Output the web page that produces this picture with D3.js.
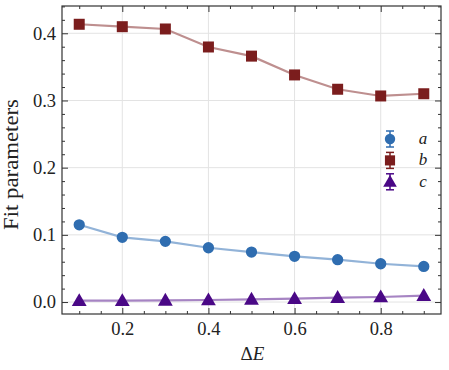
<!DOCTYPE html>
<html>
<head>
<meta charset="utf-8">
<script src="https://cdn.jsdelivr.net/npm/d3@7"></script>
<style>
  body { margin: 0; background: #fff; }
  svg text { font-family: "Liberation Serif", "DejaVu Serif", serif; fill: #222; }
</style>
</head>
<body>
<div id="chart"></div>
<script>
// data
let deltaE = [0.1, 0.2, 0.3, 0.4, 0.5, 0.6, 0.7, 0.8, 0.9];
let paramA = [0.115, 0.0963, 0.0903, 0.0808, 0.0744, 0.068, 0.063, 0.057, 0.053];
let paramB = [0.4134, 0.4098, 0.4064, 0.3796, 0.366, 0.338, 0.3167, 0.3067, 0.310];
let paramC = [0.002, 0.002, 0.0025, 0.003, 0.004, 0.005, 0.0065, 0.0075, 0.0095];
let seriesNames = ["a", "b", "c"];
let xTicks = [0.2, 0.4, 0.6, 0.8];
let yTicks = [0.0, 0.1, 0.2, 0.3, 0.4];

let width = 449, height = 370;
let margin = {left: 62, right: 8, top: 6, bottom: 56};
let serif = "'Liberation Serif', 'DejaVu Serif', serif";

let svg = d3.select("#chart").append("svg")
    .attr("width", width)
    .attr("height", height);

let x = d3.scaleLinear().domain([0.06, 0.94]).range([margin.left, width - margin.right]);
let y = d3.scaleLinear().domain([-0.0178, 0.4406]).range([height - margin.bottom, margin.top]);

let x0 = margin.left, x1 = width - margin.right;
let y0 = height - margin.bottom, y1 = margin.top;

// grid
let grid = svg.append("g").attr("class", "grid");
grid.selectAll(".gx").data(xTicks).enter().append("line")
    .attr("x1", d => x(d)).attr("x2", d => x(d))
    .attr("y1", y0).attr("y2", y1)
    .style("stroke", "#e3e3e3").style("stroke-width", 1);
grid.selectAll(".gy").data(yTicks).enter().append("line")
    .attr("x1", x0).attr("x2", x1)
    .attr("y1", d => y(d)).attr("y2", d => y(d))
    .style("stroke", "#e3e3e3").style("stroke-width", 1);

// inward ticks on all four sides
let xMinor = d3.range(0.1, 0.941, 0.05).map(v => +v.toFixed(2)).filter(v => xTicks.indexOf(v) < 0);
let yMinor = d3.range(0.0, 0.441, 0.02).map(v => +v.toFixed(2)).filter(v => yTicks.indexOf(v) < 0);

let axB = d3.axisBottom(x).tickValues(xTicks).tickSizeInner(-6).tickSizeOuter(0).tickPadding(8).tickFormat(d3.format(".1f"));
let axL = d3.axisLeft(y).tickValues(yTicks).tickSizeInner(-6).tickSizeOuter(0).tickPadding(6).tickFormat(d3.format(".1f"));
let axT = d3.axisTop(x).tickValues(xTicks).tickSizeInner(-6).tickSizeOuter(0).tickFormat("");
let axR = d3.axisRight(y).tickValues(yTicks).tickSizeInner(-6).tickSizeOuter(0).tickFormat("");

let axes = [
    [axB, `translate(0,${y0})`, d3.axisBottom(x).tickValues(xMinor)],
    [axT, `translate(0,${y1})`, d3.axisTop(x).tickValues(xMinor)],
    [axL, `translate(${x0},0)`, d3.axisLeft(y).tickValues(yMinor)],
    [axR, `translate(${x1},0)`, d3.axisRight(y).tickValues(yMinor)]
];
for(let [ax, tr, minor] of axes){
    svg.append("g").attr("transform", tr)
        .call(minor.tickSizeInner(-3).tickSizeOuter(0).tickFormat(""))
        .call(g => g.select(".domain").remove())
        .selectAll("line").style("stroke", "#333");
    let g = svg.append("g").attr("transform", tr).call(ax)
        .attr("font-family", serif).attr("font-size", 18.5);
    g.select(".domain").remove();
    g.selectAll("line").style("stroke", "#333");
    g.selectAll("text").style("font-size", "18.5px").style("fill", "#222")
        .style("font-family", serif);
}

svg.append("rect")
    .attr("x", x0).attr("y", y1)
    .attr("width", x1 - x0).attr("height", y0 - y1)
    .style("fill", "none").style("stroke", "#333").style("stroke-width", 1.2);

// series
let series = [
    {name: seriesNames[0], values: paramA, color: "#2f6db0", line: "#92b3d8", shape: d3.symbolCircle, size: 100},
    {name: seriesNames[1], values: paramB, color: "#7b1d1d", line: "#be8f8f", shape: d3.symbolSquare, size: 121},
    {name: seriesNames[2], values: paramC, color: "#4a0886", line: "#a684c3", shape: d3.symbolTriangle, size: 95}
];

let line = d3.line().x((d, i) => x(deltaE[i])).y(d => y(d));

for(let s of series){
    svg.append("path")
        .datum(s.values)
        .attr("d", line)
        .style("fill", "none")
        .style("stroke", s.line)
        .style("stroke-width", 2.2);
    svg.selectAll(null).data(s.values).enter().append("path")
        .attr("d", d3.symbol().type(s.shape).size(s.size))
        .attr("transform", (d, i) => `translate(${x(deltaE[i])},${y(d) + (s.shape === d3.symbolTriangle ? 1 : 0)})`)
        .style("fill", s.color);
}

// legend (errorbar style entries)
let legend = svg.append("g").attr("transform", "translate(390,139)");
series.forEach((s, i) => {
    let g = legend.append("g").attr("transform", `translate(0,${i * 21.4})`);
    g.append("line").attr("x1", 0).attr("x2", 0).attr("y1", -8).attr("y2", 8)
        .style("stroke", s.color).style("stroke-width", 1.5);
    g.append("line").attr("x1", -4).attr("x2", 4).attr("y1", -8).attr("y2", -8)
        .style("stroke", s.color).style("stroke-width", 1.5);
    g.append("line").attr("x1", -4).attr("x2", 4).attr("y1", 8).attr("y2", 8)
        .style("stroke", s.color).style("stroke-width", 1.5);
    g.append("path")
        .attr("d", d3.symbol().type(s.shape).size(s.size * 0.85))
        .attr("transform", `translate(0,${s.shape === d3.symbolTriangle ? 1 : 0})`)
        .style("fill", s.color);
    g.append("text")
        .attr("x", 33).attr("y", 5)
        .attr("text-anchor", "middle")
        .style("font-size", "17px")
        .style("font-style", "italic")
        .text(s.name);
});

// axis labels
svg.append("text")
    .attr("transform", "translate(18,164.5) rotate(-90)")
    .attr("text-anchor", "middle")
    .attr("textLength", 131)
    .attr("lengthAdjust", "spacingAndGlyphs")
    .style("font-size", "21px")
    .text("Fit parameters");

let xl = svg.append("text")
    .attr("x", 252.5)
    .attr("y", 360)
    .attr("text-anchor", "middle")
    .style("font-size", "19px");
xl.append("tspan").text("Δ");
xl.append("tspan").style("font-style", "italic").text("E");
</script>
</body>
</html>
